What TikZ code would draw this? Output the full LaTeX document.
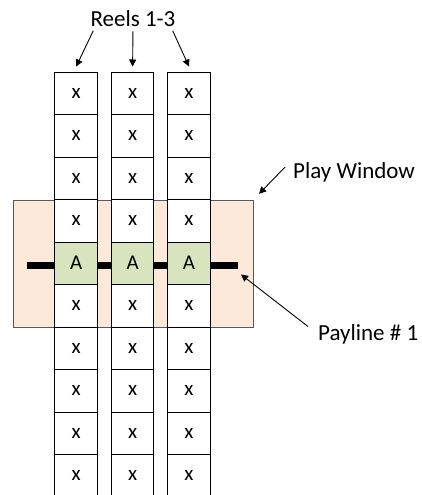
\documentclass[tikz,border=0pt]{standalone}
\usepackage{fontspec}
\setmainfont{Carlito}
\usetikzlibrary{arrows.meta}
\definecolor{winfill}{HTML}{FDE9D9}
\definecolor{hitfill}{HTML}{D7E4BD}
\tikzset{cell/.style={draw,fill=white,line width=1pt,minimum width=42.5pt,minimum height=42.5pt,inner sep=0pt,font=\fontsize{21}{21}\selectfont},
	note/.style={inner sep=0pt,font=\fontsize{23}{23}\selectfont},
	pointer/.style={-{Triangle[length=7pt,width=7pt]},line width=0.9pt}}

\begin{document}
\begin{tikzpicture}[x=1pt,y=-1pt]
	 \clip (0,0) rectangle (421,495);
	 \node[draw=black!65,fill=winfill,line width=0.9pt,minimum width=240pt,minimum height=127.5pt,inner sep=0pt] (window) at (133,263.75) {};
	 \draw[line width=7.5pt] (27,265.5) coordinate (pl-start) -- (238,265.5) coordinate (pl-end);

	 \foreach \c in {1,2,3}{
		\foreach \r in {1,2,3,4,6,7,8,9,10}
			\node[cell] (r\c-\r) at ({76.2+56.4*(\c-1)},{72+42.5*(\r-0.5)}) {x};
		\node[cell,fill=hitfill] (r\c-5) at ({76.2+56.4*(\c-1)},{72+42.5*4.5}) {A};
	 }

	 \node[note,anchor=base] (reels) at (133,26.7) {Reels 1-3};
	 \node[note,anchor=base west] (playwin) at (293,178.3) {Play Window};
	 \node[note,anchor=base west] (payline) at (318,340.7) {Payline \# 1};

	 \draw[pointer,shorten <=4pt] ([xshift=-38pt]reels.south) -- ([yshift=5pt]r1-1.north);
	 \draw[pointer,shorten <=4pt] (reels.south) -- ([yshift=5pt]r2-1.north);
	 \draw[pointer,shorten <=4pt] ([xshift=38pt]reels.south) -- ([yshift=5pt]r3-1.north);
	 \draw[pointer,shorten >=8pt] ([shift={(-8pt,5pt)}]playwin.west) -- (window.north east);
	 \draw[pointer] ([shift={(-10pt,-2pt)}]payline.north west) -- ([shift={(3pt,-9pt)}]pl-end);
\end{tikzpicture}
\end{document}
